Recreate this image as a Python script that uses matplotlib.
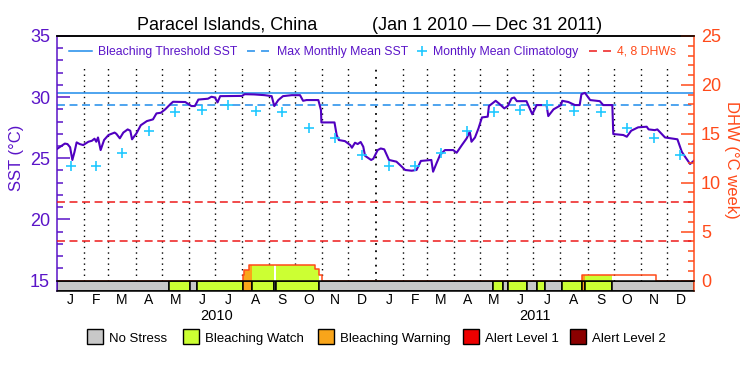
import numpy as np
import matplotlib
matplotlib.use('Agg')
import matplotlib.pyplot as plt
from matplotlib.ticker import MultipleLocator
from matplotlib.lines import Line2D
from matplotlib.patches import Rectangle
import matplotlib.transforms as mtransforms

plt.rcParams['font.family'] = ['Liberation Sans', 'DejaVu Sans']

# ---------------- data ----------------
title_left = "Paracel Islands, China"
title_right = "(Jan 1 2010 \u2014 Dec 31 2011)"

month_letters = ['J', 'F', 'M', 'A', 'M', 'J', 'J', 'A', 'S', 'O', 'N', 'D']
month_len = [31, 28, 31, 30, 31, 30, 31, 31, 30, 31, 30, 31]
years = ['2010', '2011']

# day index since 2010-01-01
sst_day = [0, 9, 12, 15, 17.6, 20, 22.5, 26, 30, 36, 40, 43, 45, 47, 50, 54, 59, 66, 68, 72,
           76, 81, 84, 86, 91, 96, 103, 110, 114, 119, 124, 130, 133, 147, 154, 158, 162, 173,
           177, 181, 184, 187, 212, 215, 226, 238, 246, 249, 253.6, 259, 269, 278.5, 282, 286,
           299.5, 302.5, 303, 318, 320.5, 323, 330, 336, 338, 341.5, 344.6, 348, 351, 353, 360,
           362.5, 367.5, 371, 375, 380.5, 389, 395, 399, 406.5, 412, 417, 429, 431, 435, 439,
           444.6, 454, 458, 464, 469.5, 473, 475, 479, 483, 487, 493.6, 495, 502.7, 506.5,
           512.6, 516.5, 521, 524, 527, 538, 544.7, 549.7, 561, 563, 569, 574, 577.6, 579, 586,
           593.6, 599, 601, 605, 611, 622, 626, 636.4, 637.5, 649, 653, 658, 666, 675.8, 678,
           685, 688, 696.8, 711, 716, 719.7, 725.5, 730]
sst_val = [25.76, 26.2, 26.16, 25.9, 24.86, 25.5, 26.3, 26.16, 26.08, 26.35, 26.43, 26.6, 26.35,
           26.7, 25.67, 26.5, 26.9, 27.1, 27.0, 26.63, 27.1, 27.36, 27.25, 26.55, 27.03, 27.7,
           28.04, 28.18, 28.67, 28.72, 29.0, 29.43, 29.62, 29.6, 29.27, 29.27, 29.8, 29.87,
           30.03, 29.97, 29.57, 30.08, 30.1, 30.24, 30.22, 30.16, 30.08, 29.27, 29.76, 30.08,
           30.16, 30.16, 29.7, 29.76, 29.76, 28.94, 27.93, 27.93, 26.9, 26.49, 26.4, 26.08,
           25.86, 26.27, 26.16, 26.33, 25.94, 25.2, 24.86, 24.96, 25.67, 25.8, 25.73, 24.86,
           24.72, 24.32, 24.04, 23.98, 24.04, 24.78, 24.86, 23.9, 24.6, 25.27, 25.67, 25.67,
           25.45, 26.08, 26.63, 27.17, 26.35, 26.7, 27.44, 28.34, 28.4, 29.27, 29.7, 29.48,
           29.08, 29.27, 29.9, 29.97, 29.67, 29.67, 28.6, 29.35, 29.35, 28.45, 29.0, 29.2,
           29.35, 29.7, 29.6, 29.35, 29.35, 30.24, 30.35, 29.76, 29.67, 29.35, 29.35, 26.98,
           26.9, 26.76, 27.25, 27.53, 27.58, 27.36, 27.3, 27.36, 26.7, 26.55, 25.53, 25.13,
           24.53, 24.8]

clim_monthly = [24.4, 24.35, 25.4, 27.2, 28.75, 28.94, 29.32, 28.88, 28.75, 27.44, 26.63, 25.24]
mmm = 29.33
bleach_threshold = 30.33
dhw_levels = [4, 8]

dhw_day = [0, 212.8, 214.7, 220.4, 295.7, 300.3, 304.0, 601.7, 686.5]
dhw_val = [0, 0.6, 1.05, 1.6, 1.22, 0.6, 0, 0.6, 0]

stress_start = [0, 128.7, 152.8, 160.1, 213.5, 223.1, 248.3, 251.3, 300.6, 500, 510.8, 517.2,
                539, 549.7, 559.6, 578.4, 602, 605, 636.4]
stress_level = [0, 1, 0, 1, 2, 1, 0, 1, 0, 1, 0, 1, 0, 1, 0, 1, 2, 1, 0]

stress_labels = ['No Stress', 'Bleaching Watch', 'Bleaching Warning', 'Alert Level 1', 'Alert Level 2']
stress_colors = ['#C8C8C8', '#CCFF33', '#F9A51A', '#EE0000', '#8B0000']

# ---------------- style ----------------
PURPLE = '#5A14C8'
SSTC = '#5000C0'
ORANGE = '#FF4A1A'
BLUE = '#1E8CEB'
CYAN = '#20C8FF'
RED = '#EE1A1A'

W, H = 750, 375
def fx(x): return x / W
def fy(y): return 1 - y / H

XL, XR, YT, YB, YBAR = 57, 694, 36, 280.5, 290.5
N_DAYS = sum(month_len) * 2

fig = plt.figure(figsize=(7.5, 3.75), dpi=100)
ax = fig.add_axes([fx(XL), fy(YB), (XR - XL) / W, (YB - YT) / H])
ax.set_xlim(0, N_DAYS)
ax.set_ylim(15, 35)
ax2 = ax.twinx()
ax2.set_ylim(0, 25)

# month boundaries (dotted)
ml = month_len * 2
edges = np.cumsum([0] + ml)
for k, e in enumerate(edges[1:-1], start=1):
    lw = 1.3 if k == 12 else 1.0
    ax.axvline(e, ymin=0, ymax=0.88, color='black', lw=lw, linestyle=(0, (1, 3)), zorder=1)

# reference lines
ax.axhline(bleach_threshold, color=BLUE, lw=1.1, zorder=2)
ax.axhline(mmm, color=BLUE, lw=1.1, linestyle=(0, (5.2, 3.0)), zorder=2)
for lv in dhw_levels:
    ax2.axhline(lv, color=RED, lw=1.1, linestyle=(0, (5.2, 3.0)), zorder=2)

# SST
ax.plot(sst_day, sst_val, color=SSTC, lw=1.5, zorder=4)

# climatology
mids = edges[:-1] + np.array(ml) / 2.0
ax.plot(mids, clim_monthly * 2, linestyle='none', marker='+', ms=7, mew=1.2, color=CYAN, zorder=5)

# DHW filled area colored by stress level
dd = np.array(dhw_day, dtype=float)
dv = np.array(dhw_val, dtype=float)
def dhw_at(t):
    idx = np.searchsorted(dd, t, side='right') - 1
    return dv[idx]
stress_end = stress_start[1:] + [N_DAYS]
for s, e, lev in zip(stress_start, stress_end, stress_level):
    if lev == 0:
        continue
    xs = np.concatenate(([s], dd[(dd > s) & (dd < e)], [e]))
    ys = dhw_at(xs)
    ax2.fill_between(xs, 0, ys, step='post', color=stress_colors[lev], lw=0, zorder=3)
ax2.step(np.append(dd, N_DAYS), np.append(dv, 0), where='post', color=ORANGE, lw=1.1, zorder=4)

# axes styling
ax.set_yticks([15, 20, 25, 30, 35])
ax.yaxis.set_minor_locator(MultipleLocator(1))
ax.tick_params(axis='y', which='major', direction='in', length=9.5, width=1.1, color=PURPLE,
               labelcolor=PURPLE, labelsize=13, pad=5)
ax.tick_params(axis='y', which='minor', direction='in', length=4.5, width=1.1, color=PURPLE)
ax.tick_params(axis='x', which='both', bottom=False, labelbottom=False)
ax2.set_yticks([0, 5, 10, 15, 20, 25])
ax2.yaxis.set_minor_locator(MultipleLocator(1))
ax2.tick_params(axis='y', which='major', direction='in', length=9.5, width=1.1, color=ORANGE,
                labelcolor=ORANGE, labelsize=13, pad=5)
ax2.tick_params(axis='y', which='minor', direction='in', length=4.5, width=1.1, color=ORANGE)
for a in (ax, ax2):
    a.spines['bottom'].set_visible(False)
    a.spines['top'].set_color('black')
    a.spines['top'].set_linewidth(1.1)
ax.spines['left'].set_color(PURPLE)
ax.spines['left'].set_linewidth(1.1)
ax.spines['right'].set_visible(False)
ax2.spines['left'].set_visible(False)
ax2.spines['right'].set_color(ORANGE)
ax2.spines['right'].set_linewidth(1.1)

# stress bar
axb = fig.add_axes([fx(XL), fy(YBAR), (XR - XL) / W, (YBAR - YB) / H])
axb.set_xlim(0, N_DAYS)
axb.set_ylim(0, 1)
for s, e, lev in zip(stress_start, stress_end, stress_level):
    axb.add_patch(Rectangle((s, 0), e - s, 1, facecolor=stress_colors[lev], edgecolor='black', lw=1.1))
axb.set_xticks([])
axb.set_yticks([])
axb.spines['left'].set_color(PURPLE)
axb.spines['right'].set_color(ORANGE)
for sp in axb.spines.values():
    sp.set_linewidth(1.1)

trans = mtransforms.blended_transform_factory(axb.transData, fig.transFigure)
for m, x in zip(month_letters * 2, mids):
    fig.text(x, fy(303.5), m, transform=trans, ha='center', va='baseline', fontsize=10)
for i, yr in enumerate(years):
    fig.text(edges[12 * i] + (edges[12 * (i + 1)] - edges[12 * i]) / 2.0, fy(320.5), yr,
             transform=trans, ha='center', va='baseline', fontsize=10.5)

# titles and axis labels
fig.text(fx(227.5), fy(30), title_left, ha='center', va='baseline', fontsize=13)
fig.text(fx(487.5), fy(30), title_right, ha='center', va='baseline', fontsize=13)
fig.text(fx(17), fy(158), 'SST (\u00b0C)', rotation=90, ha='center', va='center', fontsize=12, color=PURPLE)
fig.text(fx(731), fy(160), 'DHW (\u00b0C week)', rotation=270, ha='center', va='center', fontsize=12, color=ORANGE)

# top legend
LY = 51
TB = 55
fig.add_artist(Line2D([fx(69), fx(92)], [fy(LY)] * 2, color=BLUE, lw=1.1, transform=fig.transFigure))
fig.text(fx(98), fy(TB), 'Bleaching Threshold SST', ha='left', va='baseline', fontsize=8.8, color=PURPLE)
fig.add_artist(Line2D([fx(247), fx(270)], [fy(LY)] * 2, color=BLUE, lw=1.1, linestyle=(0, (5.2, 4.0)),
                      transform=fig.transFigure))
fig.text(fx(277), fy(TB), 'Max Monthly Mean SST', ha='left', va='baseline', fontsize=8.8, color=PURPLE)
fig.add_artist(Line2D([fx(421.7)], [fy(LY)], color=CYAN, marker='+', ms=7, mew=1.2, linestyle='none',
                      transform=fig.transFigure))
fig.text(fx(433), fy(TB), 'Monthly Mean Climatology', ha='left', va='baseline', fontsize=8.8, color=PURPLE)
fig.add_artist(Line2D([fx(589), fx(613)], [fy(LY)] * 2, color=RED, lw=1.1, linestyle=(0, (5.2, 4.0)),
                      transform=fig.transFigure))
fig.text(fx(617), fy(TB), '4, 8 DHWs', ha='left', va='baseline', fontsize=8.8, color=ORANGE)

# bottom legend
leg_x = [87, 183, 318, 463, 570]
for lab, col, x in zip(stress_labels, stress_colors, leg_x):
    fig.add_artist(Rectangle((fx(x), fy(344)), 16 / W, 15 / H, facecolor=col, edgecolor='black', lw=1.0,
                             transform=fig.transFigure))
    fig.text(fx(x + 22), fy(342), lab, ha='left', va='baseline', fontsize=9.5)

fig.savefig('out.png', dpi=100)
